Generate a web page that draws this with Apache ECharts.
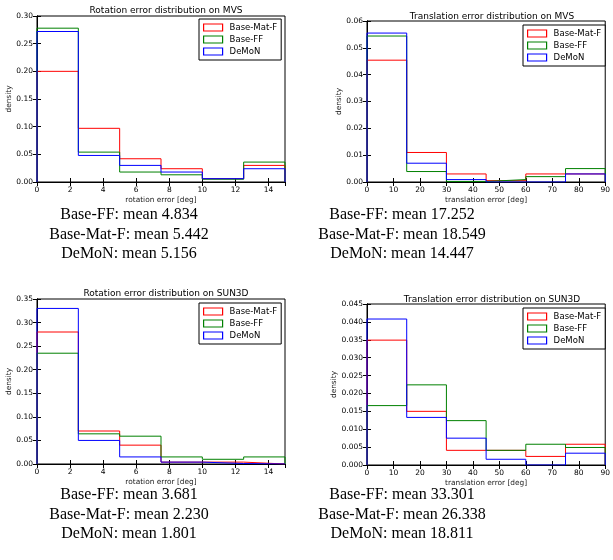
<!DOCTYPE html>
<html>
<head>
<meta charset="utf-8">
<script src="https://cdn.jsdelivr.net/npm/echarts@6/dist/echarts.min.js"></script>
<style>
  html, body { margin: 0; padding: 0; background: #fff; }
  #chart { width: 613px; height: 560px; }
</style>
</head>
<body>
<div id="chart"></div>
<script>
// bin edges
const rotEdges = [0, 2.5, 5, 7.5, 10, 12.5, 15];
const transEdges = [0, 15, 30, 45, 60, 75, 90];
const seriesNames = ["Base-Mat-F", "Base-FF", "DeMoN"];
const seriesColors = ["#ff0000", "#008000", "#0000ff"];

// rotation error on MVS
const rotMvsMatF = [0.200, 0.097, 0.042, 0.024, 0.006, 0.030];
const rotMvsFF = [0.278, 0.054, 0.018, 0.013, 0.005, 0.036];
const rotMvsDemon = [0.272, 0.048, 0.030, 0.018, 0.006, 0.024];

// translation error on MVS
const transMvsMatF = [0.0454, 0.0110, 0.0030, 0.0005, 0.0030, 0.0030];
const transMvsFF = [0.0544, 0.0039, 0.0002, 0.0009, 0.0020, 0.0050];
const transMvsDemon = [0.0555, 0.0070, 0.0009, 0.0000, 0.0000, 0.0030];

// rotation error on SUN3D
const rotSunMatF = [0.280, 0.070, 0.040, 0.004, 0.004, 0.000];
const rotSunFF = [0.235, 0.064, 0.059, 0.015, 0.010, 0.015];
const rotSunDemon = [0.330, 0.050, 0.015, 0.004, 0.001, 0.000];

// translation error on SUN3D
const transSunMatF = [0.0349, 0.0150, 0.0041, 0.0041, 0.0024, 0.0058];
const transSunFF = [0.0166, 0.0224, 0.0124, 0.0041, 0.0058, 0.0049];
const transSunDemon = [0.0408, 0.0133, 0.0075, 0.0016, 0.0000, 0.0033];

// mean texts under each plot
const meanRotMvs = ["Base-FF: mean 4.834", "Base-Mat-F: mean 5.442", "DeMoN: mean 5.156"];
const meanTransMvs = ["Base-FF: mean 17.252", "Base-Mat-F: mean 18.549", "DeMoN: mean 14.447"];
const meanRotSun = ["Base-FF: mean 3.681", "Base-Mat-F: mean 2.230", "DeMoN: mean 1.801"];
const meanTransSun = ["Base-FF: mean 33.301", "Base-Mat-F: mean 26.338", "DeMoN: mean 18.811"];

const panels = [
  {
    title: "Rotation error distribution on MVS", xName: "rotation error [deg]",
    edges: rotEdges, xInterval: 2, yMax: 0.30, yInterval: 0.05, yDigits: 2,
    data: [rotMvsMatF, rotMvsFF, rotMvsDemon], means: meanRotMvs,
    grid: { left: 37, top: 16, width: 248, height: 166 }, titleY: 1,
    legend: { left: 199, top: 19 }, yNameGap: 24, meanX: 129, meanY: 215
  },
  {
    title: "Translation error distribution on MVS", xName: "translation error [deg]",
    edges: transEdges, xInterval: 10, yMax: 0.06, yInterval: 0.01, yDigits: 2,
    data: [transMvsMatF, transMvsFF, transMvsDemon], means: meanTransMvs,
    grid: { left: 367, top: 21, width: 240, height: 161 }, titleY: 7,
    legend: { left: 523, top: 25 }, yNameGap: 24, meanX: 402, meanY: 215
  },
  {
    title: "Rotation error distribution on SUN3D", xName: "rotation error [deg]",
    edges: rotEdges, xInterval: 2, yMax: 0.35, yInterval: 0.05, yDigits: 2,
    data: [rotSunMatF, rotSunFF, rotSunDemon], means: meanRotSun,
    grid: { left: 37, top: 299, width: 248, height: 165 }, titleY: 284,
    legend: { left: 199, top: 303 }, yNameGap: 24, meanX: 129, meanY: 495
  },
  {
    title: "Translation error distribution on SUN3D", xName: "translation error [deg]",
    edges: transEdges, xInterval: 10, yMax: 0.045, yInterval: 0.005, yDigits: 3,
    data: [transSunMatF, transSunFF, transSunDemon], means: meanTransSun,
    grid: { left: 367, top: 304, width: 240, height: 161 }, titleY: 290,
    legend: { left: 523, top: 308 }, yNameGap: 28, meanX: 402, meanY: 495
  }
];

// outline of a step histogram from bin edges and heights
function stepData(edges, vals) {
  const d = [[edges[0], 0]];
  vals.forEach((v, i) => {
    d.push([edges[i], v]);
    d.push([edges[i + 1], v]);
  });
  d.push([edges[edges.length - 1], 0]);
  return d;
}

const font = "DejaVu Sans";
const tick = { show: true, inside: true, length: 4, lineStyle: { color: "#000", width: 1 } };
const line = { show: true, lineStyle: { color: "#000", width: 1 } };

const grids = [], xAxes = [], yAxes = [], series = [], titles = [], legends = [], graphics = [];

panels.forEach((p, i) => {
  grids.push(Object.assign({ show: true, borderColor: "#000", borderWidth: 1, backgroundColor: "#fff" }, p.grid));
  const xMax = p.edges[p.edges.length - 1];
  xAxes.push({
    type: "value", gridIndex: i, min: 0, max: xMax, interval: p.xInterval,
    axisLine: line, axisTick: tick, splitLine: { show: false },
    axisLabel: { fontSize: 7.5, color: "#000", fontFamily: font, margin: 4, showMaxLabel: p.xInterval === 10 },
    name: p.xName, nameLocation: "middle", nameGap: 15,
    nameTextStyle: { fontSize: 7.4, color: "#222", fontFamily: font }
  });
  // top axis, only for the inward ticks
  xAxes.push({
    type: "value", gridIndex: i, position: "top", min: 0, max: xMax, interval: p.xInterval,
    axisLine: line, axisTick: tick, splitLine: { show: false }, axisLabel: { show: false }
  });
  yAxes.push({
    type: "value", gridIndex: i, min: 0, max: p.yMax, interval: p.yInterval,
    axisLine: line, axisTick: tick, splitLine: { show: false },
    axisLabel: { fontSize: 7.5, color: "#000", fontFamily: font, margin: 4,
      formatter: (v) => v.toFixed(p.yDigits) },
    name: "density", nameLocation: "middle", nameGap: p.yNameGap,
    nameTextStyle: { fontSize: 7.4, color: "#222", fontFamily: font }
  });
  // right axis, ticks only
  yAxes.push({
    type: "value", gridIndex: i, position: "right", min: 0, max: p.yMax, interval: p.yInterval,
    axisLine: line, axisTick: tick, splitLine: { show: false }, axisLabel: { show: false }
  });

  seriesNames.forEach((name, k) => {
    series.push({
      name: name, type: "line", xAxisIndex: 2 * i, yAxisIndex: 2 * i,
      data: stepData(p.edges, p.data[k]), showSymbol: false, symbol: "none",
      lineStyle: { color: seriesColors[k], width: 1 }, itemStyle: { color: seriesColors[k] },
      z: 3 + k
    });
  });

  titles.push({
    text: p.title, left: p.grid.left + p.grid.width / 2, top: p.titleY, textAlign: "center",
    textStyle: { fontSize: 9, fontWeight: "normal", color: "#000", fontFamily: font }
  });

  legends.push({
    orient: "vertical", left: p.legend.left, top: p.legend.top,
    backgroundColor: "#fff", borderColor: "#000", borderWidth: 1,
    padding: [4, 4, 4, 4], itemWidth: 19, itemHeight: 7, itemGap: 3,
    selectedMode: false,
    textStyle: { fontSize: 8.5, color: "#000", fontFamily: font, padding: [0, 0, 0, 2] },
    data: seriesNames.map((name, k) => ({
      name: name, icon: "rect",
      itemStyle: { color: "transparent", borderColor: seriesColors[k], borderWidth: 1.2 }
    }))
  });

  p.means.forEach((t, j) => {
    graphics.push({
      type: "text", x: p.meanX, y: p.meanY + j * 19.5,
      style: { text: t, fill: "#000", font: "16px 'Liberation Serif'", textAlign: "center", textVerticalAlign: "middle" }
    });
  });
});

const chart = echarts.init(document.getElementById("chart"), null, { renderer: "canvas" });
chart.setOption({
  animation: false,
  backgroundColor: "#fff",
  title: titles,
  legend: legends,
  grid: grids,
  xAxis: xAxes,
  yAxis: yAxes,
  series: series,
  graphic: graphics
});
</script>
</body>
</html>
